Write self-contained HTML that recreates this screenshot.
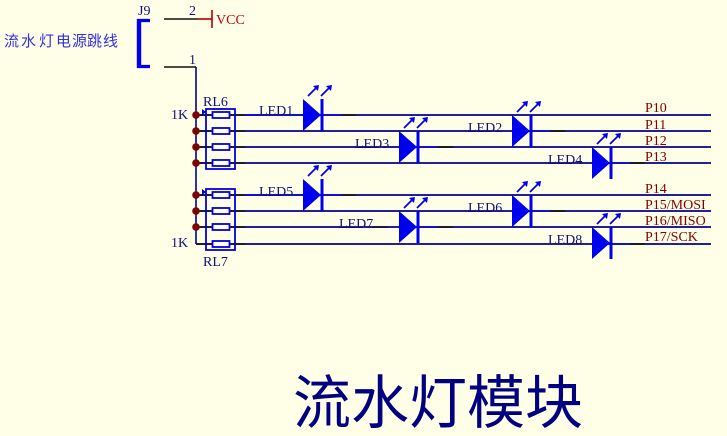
<!DOCTYPE html>
<html>
<head>
<meta charset="utf-8">
<style>
html,body{margin:0;padding:0;background:#FFFFE8;}
svg{display:block;}
.l{font-family:"Liberation Serif",serif;font-size:14px;fill:#10107a;}
.p{font-family:"Liberation Serif",serif;font-size:14px;fill:#800000;}
</style>
</head>
<body>
<svg width="727" height="436" viewBox="0 0 727 436" xmlns="http://www.w3.org/2000/svg">
<defs>
<g id="led">
  <polygon points="0,-16 18,0 0,16" fill="#0000f0"/>
  <rect x="17.5" y="-16" width="3" height="32" fill="#0000f0"/>
  <g stroke="#0000f0" stroke-width="1.8" fill="none">
    <path d="M5,-19 L13,-27"/>
    <path d="M18,-19 L26,-27"/>
  </g>
  <polygon points="10,-29 16,-30 15,-24" fill="#0000f0"/>
  <polygon points="23,-29 29,-30 28,-24" fill="#0000f0"/>
</g>
<g id="res">
  <rect x="212.5" y="-3" width="17" height="6" fill="#FFFFE8" stroke="#0000e0" stroke-width="1.8"/>
</g>
</defs>
<rect width="727" height="436" fill="#FFFFE8"/>

<!-- J9 -->
<path d="M150,20.5 H139 V66.5 H150" fill="none" stroke="#0000f0" stroke-width="3.2"/>
<path d="M139,19 V68" stroke="#0000f0" stroke-width="4.4"/>
<path d="M164,19 H197" stroke="#111" stroke-width="1.6"/>
<path d="M197,19 H212" stroke="#b00000" stroke-width="1.6"/>
<path d="M212,10 V28" stroke="#b00000" stroke-width="1.6"/>
<path d="M164,67 H196" stroke="#111" stroke-width="1.6"/>

<!-- main vertical -->
<path d="M196,67 V244" stroke="#000090" stroke-width="1.6"/>

<!-- row wires -->
<g stroke="#00008c" stroke-width="1.8" fill="none">
  <path d="M196,115 H711"/>
  <path d="M196,131 H711"/>
  <path d="M196,147 H711"/>
  <path d="M196,163 H711"/>
  <path d="M196,195 H711"/>
  <path d="M196,211 H711"/>
  <path d="M196,227 H711"/>
  <path d="M196,244 H711"/>
</g>
<g stroke="#0000e0" stroke-width="1.6" fill="none">
  <path d="M245,115 H303 M322,115 H341"/>
  <path d="M245,195 H303 M322,195 H341"/>
  <path d="M530,131 H550"/>
  <path d="M530,211 H550"/>
  <path d="M418,147 H437"/>
  <path d="M418,227 H437"/>
  <path d="M610,163 H630"/>
  <path d="M610,244 H630"/>
</g>
<g stroke="#111" stroke-width="1.6" fill="none">
  <path d="M200,115 H245 M341,115 H356"/>
  <path d="M200,131 H245"/>
  <path d="M200,147 H245"/>
  <path d="M200,163 H245"/>
  <path d="M200,195 H245 M341,195 H356"/>
  <path d="M200,211 H245"/>
  <path d="M200,227 H245"/>
  <path d="M196,244 H245"/>
  <path d="M550,131 H565"/>
  <path d="M550,211 H565"/>
  <path d="M437,147 H453"/>
  <path d="M372,227 H388 M437,227 H453"/>
  <path d="M630,163 H645"/>
  <path d="M630,244 H645"/>
</g>

<!-- junctions -->
<g fill="#800000">
  <circle cx="196" cy="115" r="3.8"/>
  <circle cx="196" cy="131" r="3.8"/>
  <circle cx="196" cy="147" r="3.8"/>
  <circle cx="196" cy="163" r="3.8"/>
  <circle cx="196" cy="195" r="3.8"/>
  <circle cx="196" cy="211" r="3.8"/>
  <circle cx="196" cy="227" r="3.8"/>
</g>

<!-- RL packs -->
<rect x="206" y="109" width="29" height="60" fill="none" stroke="#0000e0" stroke-width="1.8"/>
<rect x="206" y="189" width="29" height="61" fill="none" stroke="#0000e0" stroke-width="1.8"/>
<use href="#res" y="115"/>
<use href="#res" y="131"/>
<use href="#res" y="147"/>
<use href="#res" y="163"/>
<use href="#res" y="195"/>
<use href="#res" y="211"/>
<use href="#res" y="227"/>
<use href="#res" y="244"/>
<polygon points="202,109 206,112 202,115" fill="#0000e0"/>
<polygon points="202,189 206,192 202,195" fill="#0000e0"/>

<!-- LEDs -->
<use href="#led" x="303" y="115"/>
<use href="#led" x="512" y="131"/>
<use href="#led" x="399" y="147"/>
<use href="#led" x="592" y="163"/>
<use href="#led" x="303" y="195"/>
<use href="#led" x="512" y="211"/>
<use href="#led" x="399" y="227"/>
<use href="#led" x="592" y="243"/>

<!-- labels -->
<text class="l" x="138" y="15">J9</text>
<text class="l" x="189" y="15">2</text>
<text class="l" x="189" y="64">1</text>
<text x="216" y="24" font-family="'Liberation Serif',serif" font-size="14" fill="#c80000">VCC</text>
<text class="l" x="171" y="119">1K</text>
<text class="l" x="171" y="247">1K</text>
<text class="l" x="203" y="106">RL6</text>
<text class="l" x="203" y="266">RL7</text>
<text class="l" x="259" y="115">LED1</text>
<text class="l" x="468" y="132">LED2</text>
<text class="l" x="355" y="148">LED3</text>
<text class="l" x="548" y="164">LED4</text>
<text class="l" x="259" y="196">LED5</text>
<text class="l" x="468" y="212">LED6</text>
<text class="l" x="339" y="228">LED7</text>
<text class="l" x="548" y="244">LED8</text>

<text class="p" x="645" y="112">P10</text>
<text class="p" x="645" y="129">P11</text>
<text class="p" x="645" y="145">P12</text>
<text class="p" x="645" y="161">P13</text>
<text class="p" x="645" y="193">P14</text>
<text class="p" x="645" y="209">P15/MOSI</text>
<text class="p" x="645" y="225">P16/MISO</text>
<text class="p" x="645" y="241">P17/SCK</text>

<text x="4 21 39 56 72 87 103" y="46" font-family="'Liberation Sans','Noto Sans CJK SC',sans-serif" font-size="15" fill="#3030e0">流水灯电源跳线</text>
<text x="293" y="423" font-family="'Liberation Sans','Noto Sans CJK SC',sans-serif" font-size="58" fill="#000080">流水灯模块</text>
</svg>
</body>
</html>
